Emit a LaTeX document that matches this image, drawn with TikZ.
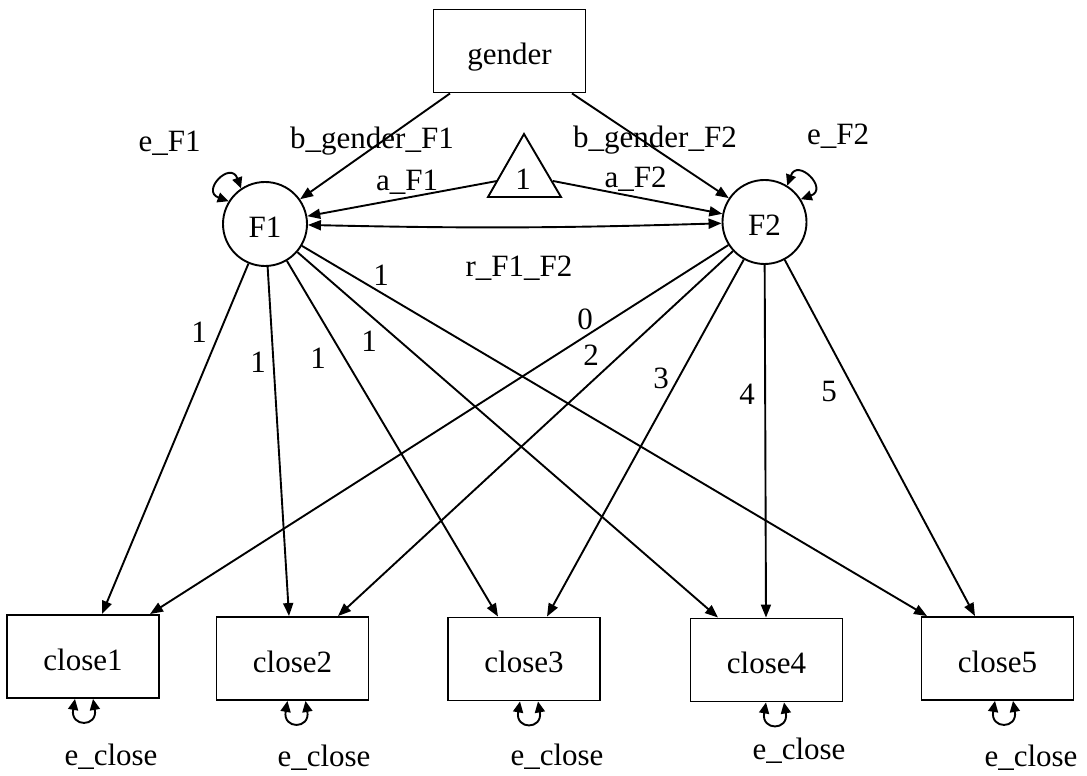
\documentclass[tikz,border=0pt]{standalone}
\usepackage{fontspec}
\setmainfont{Liberation Serif}
\usetikzlibrary{arrows.meta}
\begin{document}
\begin{tikzpicture}[x=1pt,y=1pt,
  every node/.style={font=\fontsize{31}{37}\selectfont},
  box/.style={draw, line width=1.9pt, minimum width=152pt, minimum height=83pt, inner sep=0pt, text height=28pt, text depth=0pt},
  lat/.style={draw, circle, line width=1.9pt, minimum size=84pt, inner sep=0pt, text height=28pt, text depth=0pt},
  lbl/.style={anchor=base, inner sep=0pt},
  edge/.style={line width=1.9pt, -{Triangle[length=13pt,width=10pt]}},
  twoway/.style={line width=1.9pt, {Triangle[length=13pt,width=10pt]}-{Triangle[length=13pt,width=10pt]}},
  loopar/.style={line width=1.9pt, {Triangle[length=11pt,width=10pt]}-{Triangle[length=11pt,width=10pt]}},
]
\useasboundingbox (0,0) rectangle (1087,776);

% nodes
\node[box] (gender) at (509.5,725) {gender};
\node[lat] (F1) at (265,552) {F1};
\node[lat] (F2) at (764.5,554) {F2};
\node[box] (close1) at (83,119.5) {close1};
\node[box] (close2) at (292.5,117.5) {close2};
\node[box] (close3) at (524,117) {close3};
\node[box] (close4) at (766.5,116) {close4};
\node[box] (close5) at (997.5,117.5) {close5};

% constant triangle
\draw[line width=1.9pt] (488,579) -- (524,642) -- (561,579) -- cycle;
\node[lbl] (one) at (523,586) {1};
\coordinate (triL) at (497,595);
\coordinate (triR) at (553,595);

% regressions from gender and intercepts
\draw[edge] ([xshift=-59.5pt]gender.south) -- (F1);
\draw[edge] ([xshift=62.5pt]gender.south) -- (F2);
\draw[edge] (triL) -- (F1);
\draw[edge] (triR) -- (F2);
\draw[twoway] (F1) to[bend right=1.5] (F2);

% loadings F1
\draw[edge] (F1) -- ([xshift=19pt]close1.north);
\draw[edge] (F1) -- ([xshift=-3.5pt]close2.north);
\draw[edge] (F1) -- ([xshift=-26pt]close3.north);
\draw[edge] (F1) -- ([xshift=-48.5pt]close4.north);
\draw[edge] (F1) -- ([xshift=-70.5pt]close5.north);
% loadings F2
\draw[edge] (F2) -- ([xshift=67pt]close1.north);
\draw[edge] (F2) -- ([xshift=45.5pt]close2.north);
\draw[edge] (F2) -- ([xshift=23pt]close3.north);
\draw[edge] (F2) -- ([xshift=-0.5pt]close4.north);
\draw[edge] (F2) -- ([xshift=-22.5pt]close5.north);

% variance loops
\draw[loopar] (F1.148) .. controls +(160:30) and +(110:30) .. (F1.124);
\draw[loopar] (F2.58) .. controls +(70:30) and +(20:30) .. (F2.32);
\draw[loopar] ([xshift=-8pt]close1.south) .. controls +(-100:29) and +(-80:29) .. ([xshift=10pt]close1.south);
\draw[loopar] ([xshift=-5pt]close2.south) .. controls +(-100:29) and +(-80:29) .. ([xshift=13pt]close2.south);
\draw[loopar] ([xshift=-4pt]close3.south) .. controls +(-100:29) and +(-80:29) .. ([xshift=14pt]close3.south);
\draw[loopar] ([xshift=-0.5pt]close4.south) .. controls +(-100:29) and +(-80:29) .. ([xshift=17.5pt]close4.south);
\draw[loopar] ([xshift=-2.5pt]close5.south) .. controls +(-100:29) and +(-80:29) .. ([xshift=15.5pt]close5.south);

% labels
\node[lbl] (leF1) at (169.5,624) {e\_F1};
\node[lbl] (leF2) at (838,631) {e\_F2};
\node[lbl] (lbg1) at (372,627) {b\_gender\_F1};
\node[lbl] (lbg2) at (655,628) {b\_gender\_F2};
\node[lbl] (laF1) at (407,585) {a\_F1};
\node[lbl] (laF2) at (635.5,588) {a\_F2};
\node[lbl] (lr) at (519,499) {r\_F1\_F2};
\node[lbl] (l11) at (199,433) {1};
\node[lbl] (l12) at (258,403) {1};
\node[lbl] (l13) at (318,407) {1};
\node[lbl] (l14) at (369,424) {1};
\node[lbl] (l15) at (381,490) {1};
\node[lbl] (l21) at (585,446) {0};
\node[lbl] (l22) at (591,410) {2};
\node[lbl] (l23) at (661,387) {3};
\node[lbl] (l24) at (747,371) {4};
\node[lbl] (l25) at (829,374) {5};
\node[lbl] (le1) at (111,10) {e\_close};
\node[lbl] (le2) at (324,9) {e\_close};
\node[lbl] (le3) at (557,10) {e\_close};
\node[lbl] (le4) at (799,16) {e\_close};
\node[lbl] (le5) at (1031,9) {e\_close};
\end{tikzpicture}
\end{document}
